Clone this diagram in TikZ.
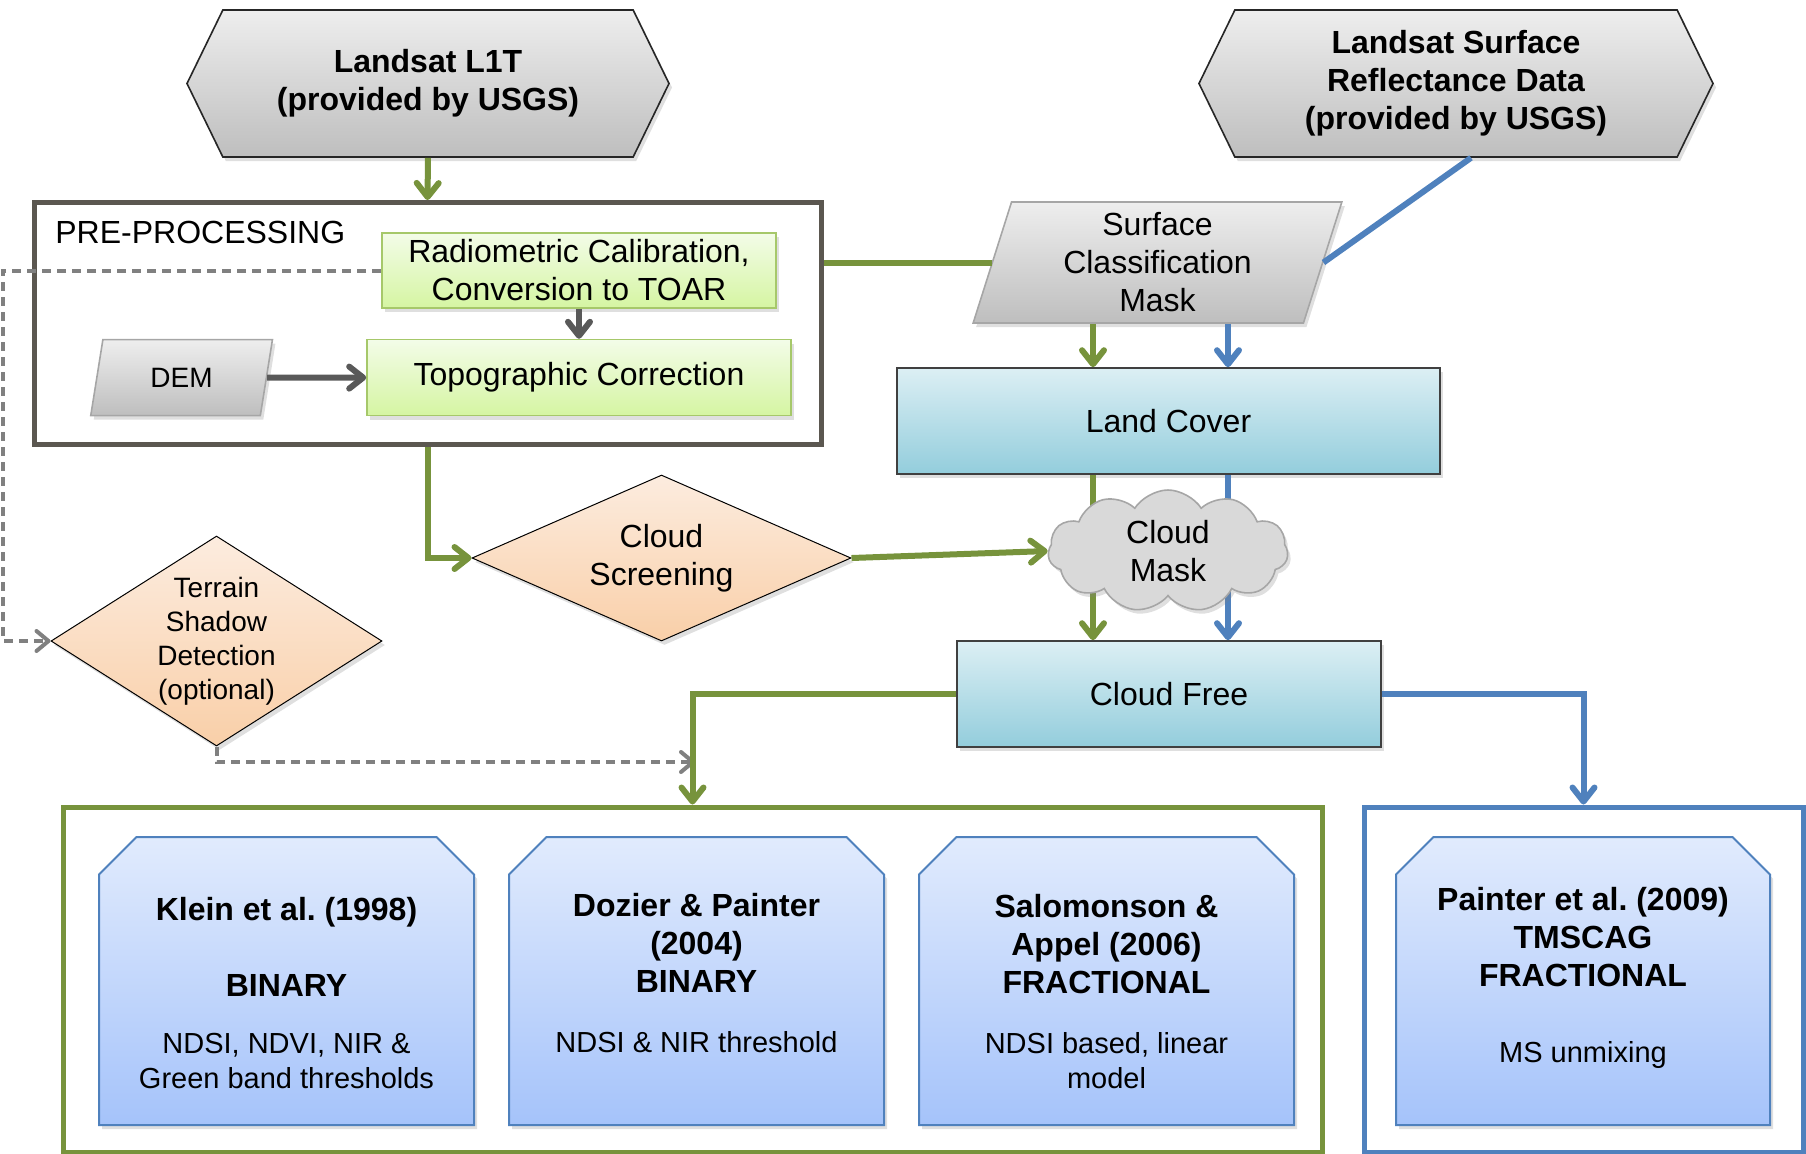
\documentclass[tikz,border=0pt]{standalone}
\usepackage{fontspec}
\setmainfont{Liberation Sans}
\usepackage{tikz}
\usetikzlibrary{arrows.meta,positioning,shapes.geometric,shapes.symbols,shapes.misc,shadows}
\definecolor{snowgreen}{HTML}{77933C}
\definecolor{snowblue}{HTML}{4F81BD}
\definecolor{snowframe}{HTML}{5B5750}
\definecolor{snowdark}{HTML}{595959}
\definecolor{snowdash}{HTML}{808080}
\definecolor{snowgrayhi}{HTML}{EEEEEE}
\definecolor{snowgraylo}{HTML}{BEBEBE}
\definecolor{snowlimehi}{HTML}{F3FCE8}
\definecolor{snowlimelo}{HTML}{D5F5A2}
\definecolor{snowlimeedge}{HTML}{A6C86A}
\definecolor{snowaquahi}{HTML}{DCEFF4}
\definecolor{snowaqualo}{HTML}{93CDDC}
\definecolor{snowpeachhi}{HTML}{FCECDF}
\definecolor{snowpeachlo}{HTML}{F9CFA8}
\definecolor{snowskyhi}{HTML}{E1EBFD}
\definecolor{snowskylo}{HTML}{A5C3FA}
\definecolor{snowcloud}{HTML}{D9D9D9}
\newcommand{\descfont}{\fontsize{14.5}{17.5}\selectfont\mdseries}

\begin{document}
\begin{tikzpicture}[x=0.5pt,y=-0.5pt,
  every node/.style={font=\fontsize{16}{19}\selectfont,inner sep=0pt,align=center},
  softshadow/.style={drop shadow={opacity=0.25,shadow xshift=1.5pt,shadow yshift=-2pt}},
  source/.style={signal,signal to=west and east,signal pointer angle=128,draw=black!85,line width=0.8pt,top color=snowgrayhi,bottom color=snowgraylo,minimum width=241pt,minimum height=73.5pt,font=\fontsize{16}{19}\selectfont\bfseries,softshadow},
  dataset/.style={trapezium,trapezium left angle=76,trapezium right angle=104,trapezium stretches=true,draw=black!35,line width=0.8pt,top color=snowgrayhi,bottom color=snowgraylo,softshadow},
  calib/.style={rectangle,draw=snowlimeedge,line width=0.8pt,top color=snowlimehi,bottom color=snowlimelo,minimum height=38pt,softshadow},
  landbox/.style={rectangle,draw=black!75,line width=0.8pt,top color=snowaquahi,bottom color=snowaqualo,minimum width=271.5pt,minimum height=53pt,softshadow},
  decision/.style={diamond,draw=black,line width=0.5pt,top color=snowpeachhi,bottom color=snowpeachlo,softshadow},
  cloudmask/.style={cloud,cloud puffs=11,cloud puff arc=115,aspect=2,draw=black!35,line width=0.8pt,fill=snowcloud,minimum width=120pt,minimum height=61pt,softshadow},
  method/.style={chamfered rectangle,chamfered rectangle corners={north west,north east},chamfered rectangle xsep=10pt,chamfered rectangle ysep=8.75pt,draw=snowblue,line width=1pt,top color=snowskyhi,bottom color=snowskylo,minimum width=187.5pt,minimum height=144pt,font=\fontsize{16}{19}\selectfont\bfseries,softshadow},
  frame/.style={rectangle,line width=2.5pt},
  flowg/.style={-{Straight Barb[length=7pt,width=11pt,round]},line width=3pt,draw=snowgreen},
  lineg/.style={line width=3pt,draw=snowgreen},
  flowb/.style={-{Straight Barb[length=7pt,width=11pt,round]},line width=3pt,draw=snowblue},
  lineb/.style={line width=3pt,draw=snowblue},
  flowk/.style={-{Straight Barb[length=7pt,width=11pt,round]},line width=3pt,draw=snowdark},
  flowd/.style={-{Straight Barb[length=6pt,width=10pt,round]},line width=2pt,draw=snowdash,dash pattern=on 4.5pt off 3pt}
]
\useasboundingbox (0,0) rectangle (1806,1153);
% inputs
\node[source] (l1t) at (428,83.5) {Landsat L1T\\(provided by USGS)};
\node[source,minimum width=257pt] (srd) at (1456,83.5) {Landsat Surface\\Reflectance Data\\(provided by USGS)};
% pre-processing block
\node[frame,draw=snowframe,minimum width=393.5pt,minimum height=121pt] (preproc) at (427.5,323.5) {};
\node[anchor=west] (pptitle) at (55,232.5) {PRE-PROCESSING};
\node[calib,minimum width=197pt,minimum height=37.5pt] (radcal) at (579,270.5) {Radiometric Calibration,\\Conversion to TOAR};
\node[calib,minimum width=212pt,below=15pt of radcal] (topocor) {Topographic Correction};
\node[dataset,minimum width=91pt,minimum height=38pt,font=\fontsize{14}{17}\selectfont,left=49.5pt of topocor] (dem) {DEM};
% masks
\node[dataset,minimum width=184.5pt,minimum height=60.5pt] (scm) at (1157.5,262.5) {Surface\\Classification\\Mask};
\node[landbox] (lc) at (1168.5,421) {Land Cover};
\node[landbox,minimum width=212pt] (cf) at (1169,694) {Cloud Free};
\coordinate (gcol) at (1093,0);
\coordinate (bcol) at (1228,0);
\draw[flowg] (scm.south -| gcol) -- (lc.north -| gcol);
\draw[flowb] (scm.south -| bcol) -- (lc.north -| bcol);
\draw[flowg] (lc.south -| gcol) -- (cf.north -| gcol);
\draw[flowb] (lc.south -| bcol) -- (cf.north -| bcol);
\node[cloudmask] (cm) at (1168,551) {Cloud\\Mask};
\node[decision,aspect=2.28,minimum width=189.5pt,minimum height=83pt] (cs) at (661.5,558) {Cloud\\Screening};
\node[decision,aspect=1.58,minimum width=165.5pt,minimum height=105pt,font=\fontsize{14}{17}\selectfont] (tsd) at (216.5,641) {Terrain\\Shadow\\Detection\\(optional)};
% snow mapping methods
\node[frame,draw=snowgreen,minimum width=629.5pt,minimum height=172.5pt] (gframe) at (692.5,979.5) {};
\node[frame,draw=snowblue,minimum width=219.5pt,minimum height=172.5pt] (bframe) at (1583.5,979.5) {};
\node[method] (klein) at (286.5,981) {\rule{0pt}{24pt}Klein et al.\ (1998)\\[19pt]BINARY\\[9.5pt]\descfont NDSI, NDVI, NIR \&\\[-1.5pt]\descfont Green band thresholds};
\node[method,right=16.5pt of klein] (dozier) {Dozier \& Painter\\(2004)\\BINARY\\[11pt]\descfont\rule[-8pt]{0pt}{0pt}NDSI \& NIR threshold};
\node[method,right=16.5pt of dozier] (salomon) {\rule{0pt}{22pt}Salomonson \&\\Appel (2006)\\FRACTIONAL\\[11pt]\descfont NDSI based, linear\\[-1.5pt]\descfont model};
\node[method,minimum width=187pt] (painter) at (1583,981) {Painter et al.\ (2009)\\TMSCAG\\FRACTIONAL\\[19pt]\descfont\rule[-6.5pt]{0pt}{0pt}MS unmixing};
% connectors
\draw[flowg] (l1t.south) -- (preproc.north);
\draw[flowk] (radcal) -- (topocor);
\draw[flowk] (dem) -- (topocor);
\draw[lineg] (preproc.east |- scm.west) -- (scm.west);
\draw[lineb] ([xshift=7.5pt]srd.south) -- (scm.east);
\draw[flowg] (preproc.south) |- (cs.west);
\draw[flowg] (cs.east) -- (cm.west);
\coordinate (dashx) at (3,0);
\draw[flowd] (radcal.west) -- (radcal.west -| dashx) |- (tsd.west);
\coordinate (tsdend) at (695,762);
\draw[flowd] (tsd.south) |- (tsdend);
\draw[flowg] (cf.west) -| (gframe.north);
\draw[flowb] (cf.east) -| (bframe.north);
\end{tikzpicture}
\end{document}
